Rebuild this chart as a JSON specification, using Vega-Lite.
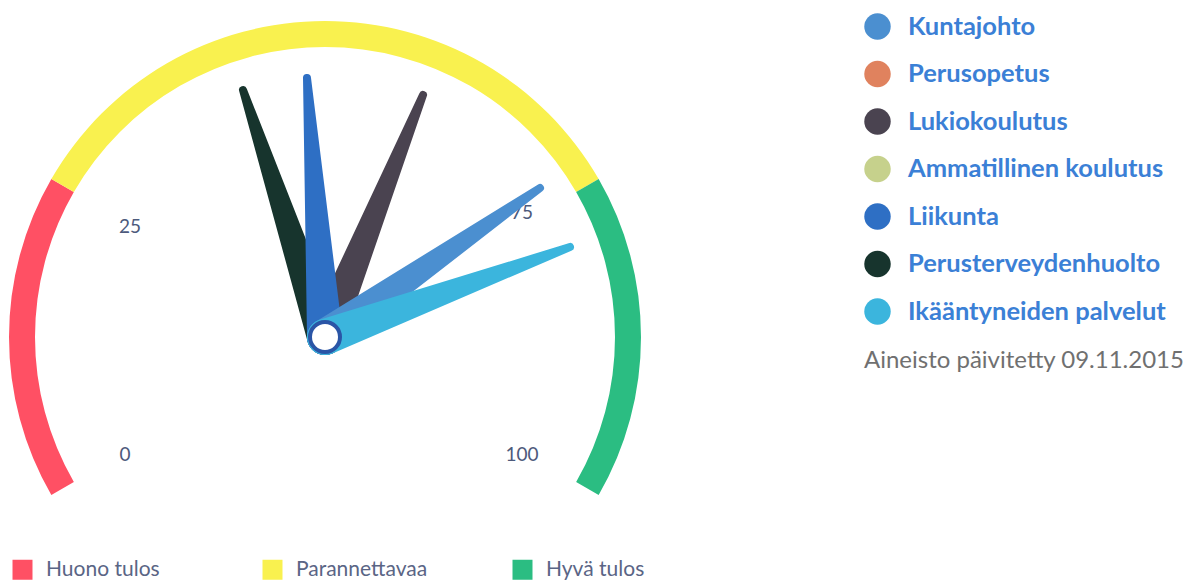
{
  "$schema": "https://vega.github.io/schema/vega-lite/v6.json",
  "width": 1197,
  "height": 584,
  "padding": 0,
  "autosize": {"type": "none"},
  "background": "white",
  "config": {"view": {"stroke": null}},
  "datasets": {
    "bands": [
      {"band": "Huono tulos", "from": 0, "to": 25},
      {"band": "Parannettavaa", "from": 25, "to": 75},
      {"band": "Hyvä tulos", "from": 75, "to": 100}
    ],
    "ticks": [
      {"label": "0", "x": -200, "y": -118},
      {"label": "25", "x": -195, "y": 110},
      {"label": "75", "x": 197, "y": 124},
      {"label": "100", "x": 197, "y": -118}
    ],
    "needles": [
      {"series": "Kuntajohto", "part": 0, "x": 0, "y": 0, "w": 36},
      {"series": "Kuntajohto", "part": 1, "x": 215, "y": 149, "w": 8},
      {"series": "Lukiokoulutus", "part": 0, "x": 0, "y": 0, "w": 36},
      {"series": "Lukiokoulutus", "part": 1, "x": 98, "y": 242, "w": 8},
      {"series": "Liikunta", "part": 0, "x": 0, "y": 0, "w": 36},
      {"series": "Liikunta", "part": 1, "x": -18, "y": 259, "w": 8},
      {"series": "Perusterveydenhuolto", "part": 0, "x": 0, "y": 0, "w": 36},
      {"series": "Perusterveydenhuolto", "part": 1, "x": -82, "y": 247, "w": 8},
      {"series": "Ikääntyneiden palvelut", "part": 0, "x": 0, "y": 0, "w": 36},
      {"series": "Ikääntyneiden palvelut", "part": 1, "x": 245, "y": 90, "w": 8}
    ],
    "hub": [{"x": 0, "y": 0}]
  },
  "layer": [
    {
      "data": {"name": "bands"},
      "mark": {"type": "arc", "radius": 316, "radius2": 290},
      "encoding": {
        "x": {"datum": 0, "type": "quantitative", "scale": {"domain": [-325, 872], "nice": false, "zero": false}, "axis": null},
        "y": {"datum": 0, "type": "quantitative", "scale": {"domain": [-247, 337], "nice": false, "zero": false}, "axis": null},
        "theta": {"field": "from", "type": "quantitative", "stack": null, "scale": {"domain": [0, 100], "range": [-2.0944, 2.0944]}},
        "theta2": {"field": "to"},
        "fill": {
          "field": "band", "type": "nominal",
          "scale": {"domain": ["Huono tulos", "Parannettavaa", "Hyvä tulos"], "range": ["#ff5064", "#f9f14f", "#2bbd82"]},
          "legend": {
            "title": null, "orient": "none", "legendX": 12, "legendY": 559, "direction": "horizontal",
            "symbolType": "square", "symbolSize": 400, "symbolStrokeWidth": 0,
            "labelFont": "Lato", "labelFontSize": 21, "labelColor": "#5a6585", "labelOffset": 13, "labelLimit": 400,
            "gridAlign": "all", "columnPadding": 84, "padding": 0
          }
        }
      }
    },
    {
      "data": {"name": "ticks"},
      "mark": {"type": "text", "font": "Lato", "fontSize": 19, "color": "#4d5a7c", "align": "center", "baseline": "middle"},
      "encoding": {
        "x": {"field": "x", "type": "quantitative"},
        "y": {"field": "y", "type": "quantitative"},
        "text": {"field": "label"}
      }
    },
    {
      "data": {"name": "needles"},
      "encoding": {
        "x": {"field": "x", "type": "quantitative"},
        "y": {"field": "y", "type": "quantitative"},
        "order": {"field": "part"},
        "size": {"field": "w", "type": "quantitative", "scale": null, "legend": null},
        "color": {
          "field": "series", "type": "nominal",
          "scale": {
            "domain": ["Kuntajohto", "Perusopetus", "Lukiokoulutus", "Ammatillinen koulutus", "Liikunta", "Perusterveydenhuolto", "Ikääntyneiden palvelut"],
            "range": ["#4b8fd0", "#e0825e", "#4a4350", "#c6d18c", "#2e6fc4", "#17342d", "#3bb5dd"]
          },
          "legend": {
            "title": "Aineisto päivitetty 09.11.2015", "titleOrient": "bottom", "titleFont": "Lato", "titleFontSize": 24,
            "titleFontWeight": "normal", "titleColor": "#707070", "titlePadding": 24, "titleAlign": "left", "titleLimit": 500,
            "orient": "none", "legendX": 864, "legendY": 13, "padding": 0,
            "symbolType": "circle", "symbolSize": 700, "symbolOpacity": 1,
            "labelFont": "Lato", "labelFontSize": 25.5, "labelFontWeight": "bold", "labelColor": "#3b80d6", "labelLimit": 500,
            "labelOffset": 17, "rowPadding": 20.5,
            "encode": {"symbols": {"update": {"fill": {"scale": "color", "field": "value"}, "fillOpacity": {"value": 1}, "strokeWidth": {"value": 0}}}}
          }
        }
      },
      "layer": [
        {"transform": [{"filter": "datum.series == 'Perusterveydenhuolto'"}], "mark": {"type": "trail"}},
        {"transform": [{"filter": "datum.series == 'Lukiokoulutus'"}], "mark": {"type": "trail"}},
        {"transform": [{"filter": "datum.series == 'Liikunta'"}], "mark": {"type": "trail"}},
        {"transform": [{"filter": "datum.series == 'Kuntajohto'"}], "mark": {"type": "trail"}},
        {"transform": [{"filter": "datum.series == 'Ikääntyneiden palvelut'"}], "mark": {"type": "trail"}}
      ]
    },
    {
      "data": {"name": "hub"},
      "mark": {"type": "point", "shape": "circle", "filled": true, "fill": "white", "stroke": "#2a55a6", "strokeWidth": 4, "size": 900, "opacity": 1},
      "encoding": {
        "x": {"field": "x", "type": "quantitative"},
        "y": {"field": "y", "type": "quantitative"}
      }
    }
  ]
}
